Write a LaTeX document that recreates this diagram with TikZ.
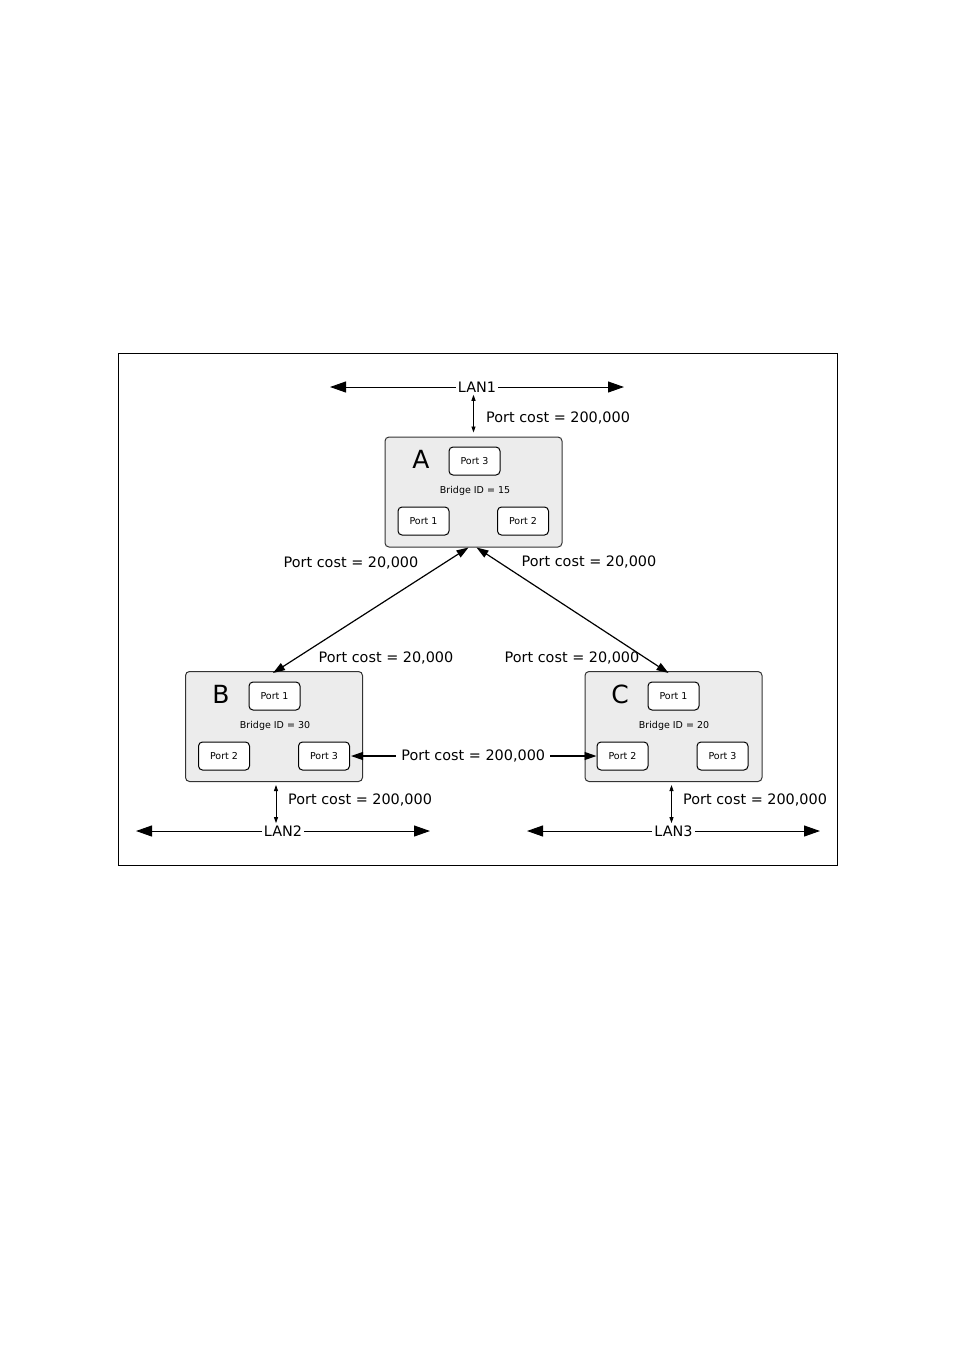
\documentclass[tikz,border=0pt]{standalone}
\usepackage{fontspec}
\setmainfont{DejaVu Sans}
\usetikzlibrary{arrows.meta,positioning}
\definecolor{boxgray}{RGB}{236,236,236}
\newcommand{\costfs}{\fontsize{14.4}{16}\selectfont}
\newcommand{\portfs}{\fontsize{9.5}{10}\selectfont}
\newcommand{\namefs}{\fontsize{25}{28}\selectfont}

\tikzset{
  bridge/.style = {draw=black!80, fill=boxgray, rounded corners=4pt, line width=1pt,
                   minimum width=177pt, minimum height=110pt},
  port/.style   = {draw, fill=white, rounded corners=4pt, line width=1pt, inner sep=0pt,
                   minimum width=51pt, minimum height=28pt, font=\portfs},
  cost/.style   = {font=\costfs, inner sep=1pt},
  lan/.style    = {font=\costfs, fill=white, inner sep=2pt},
  lanline/.style = {{Triangle[length=16pt,width=11pt]}-{Triangle[length=16pt,width=11pt]}, line width=1pt},
  link/.style   = {{Triangle[length=12pt,width=8pt]}-{Triangle[length=12pt,width=8pt]}, line width=1.2pt},
  drop/.style   = {{Triangle[length=6pt,width=4pt]}-{Triangle[length=6pt,width=4pt]}, line width=0.8pt}
}

\begin{document}
\begin{tikzpicture}[x=1pt,y=-1pt]
  \useasboundingbox (0,0) rectangle (954,1350);
  %\draw[help lines] (0,0) grid[step=50] (954,1350);
  \draw[line width=1pt] (118,353) rectangle (837,865);

  % bridges
  \node[bridge] (a) at (473.5,492) {};
  \node[bridge] (b) at (274,726.5) {};
  \node[bridge] (c) at (673.5,726.5) {};

  \node[font=\namefs] (aname) at (421,459) {A};
  \node[font=\namefs] (bname) at (221,694) {B};
  \node[font=\namefs] (cname) at (620,694) {C};

  \node[font=\portfs] (aid) at (475,491) {Bridge ID = 15};
  \node[font=\portfs] (bid) at (275,726) {Bridge ID = 30};
  \node[font=\portfs] (cid) at (674,726) {Bridge ID = 20};

  \node[port] (a3) at (474.5,461) {Port 3};
  \node[port] (a1) at (423.5,521) {Port 1};
  \node[port] (a2) at (523,521) {Port 2};

  \node[port] (b1) at (274.5,696) {Port 1};
  \node[port] (b2) at (224,756) {Port 2};
  \node[port] (b3) at (324,756) {Port 3};

  \node[port] (c1) at (673.5,696) {Port 1};
  \node[port] (c2) at (622.5,756) {Port 2};
  \node[port] (c3) at (722.5,756) {Port 3};

  % LANs
  \coordinate (l1w) at (330,387);
  \coordinate (l1e) at (624,387);
  \coordinate (l2w) at (136,831);
  \coordinate (l2e) at (430,831);
  \coordinate (l3w) at (527,831);
  \coordinate (l3e) at (820,831);
  \draw[lanline] (l1w) -- node[lan] (lan1) {LAN1} (l1e);
  \draw[lanline] (l2w) -- node[lan] (lan2) {LAN2} (l2e);
  \draw[lanline] (l3w) -- node[lan] (lan3) {LAN3} (l3e);

  % links
  \draw[drop, shorten <=4pt] (a.north) -- (a.north |- lan1.south);
  \draw[drop, shorten <=3pt] ([xshift=2pt]b.south) -- ([xshift=2pt]b.south |- lan2.north);
  \draw[drop, shorten <=3pt] ([xshift=-2pt]c.south) -- ([xshift=-2pt]c.south |- lan3.north);
  \draw[link] ([xshift=-5pt]a.south) -- ([xshift=-1pt,yshift=-2pt]b.north);
  \draw[link] ([xshift=3pt]a.south) -- ([xshift=-5pt,yshift=-2pt]c.north);
  \draw[link, shorten <=1pt, shorten >=0pt] (b3.east) -- node[cost, fill=white, inner sep=5pt] (bc) {Port cost = 200,000} (c2.west);

  % costs
  \node[cost, anchor=west] (costa) at (485,418) {Port cost = 200,000};
  \node[cost] (costab) at (351,563) {Port cost = 20,000};
  \node[cost] (costac) at (589,562) {Port cost = 20,000};
  \node[cost] (costba) at (386,658) {Port cost = 20,000};
  \node[cost] (costca) at (572,658) {Port cost = 20,000};
  \node[cost, anchor=west] (costb) at (287,800) {Port cost = 200,000};
  \node[cost, anchor=west] (costc) at (682,800) {Port cost = 200,000};
\end{tikzpicture}
\end{document}
